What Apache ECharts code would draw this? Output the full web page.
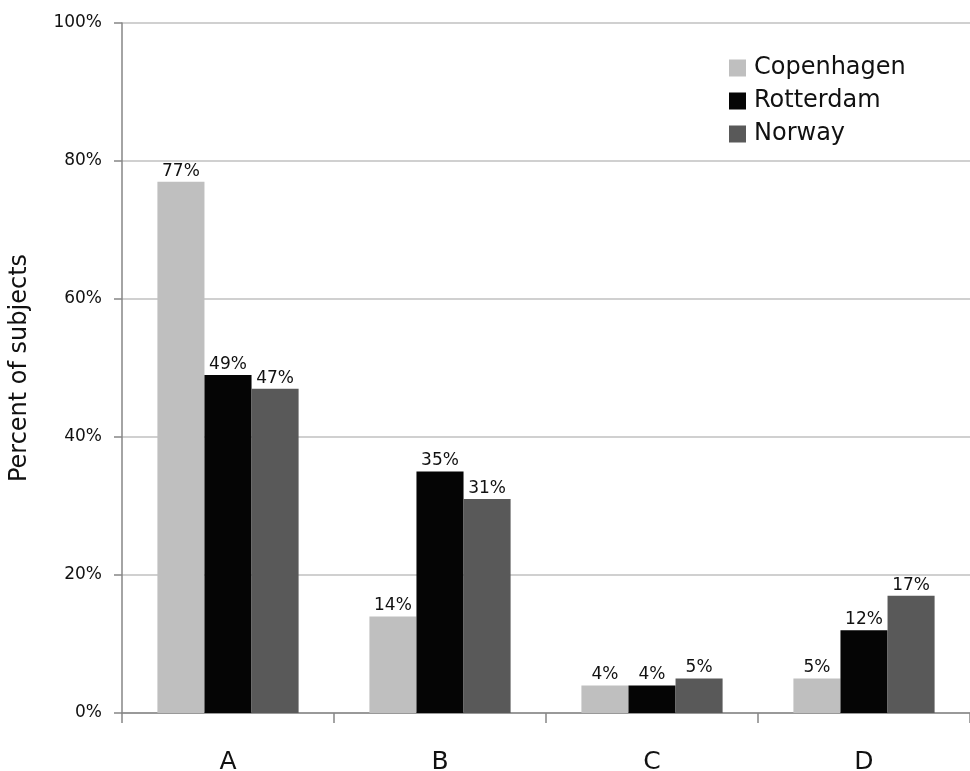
<!DOCTYPE html>
<html>
<head>
<meta charset="utf-8">
<script src="https://cdn.jsdelivr.net/npm/echarts@6/dist/echarts.min.js"></script>
<style>
  html, body { margin: 0; padding: 0; background: #fff; }
  #chart { width: 970px; height: 771px; }
</style>
</head>
<body>
<div id="chart"></div>
<script>
// Share of subjects per category, by cohort (percent)
const categories = ['A', 'B', 'C', 'D'];
const copenhagen = [77, 14, 4, 5];
const rotterdam = [49, 35, 4, 12];
const norway = [47, 31, 5, 17];
const yTicks = [0, 20, 40, 60, 80, 100];

const FONT = '"DejaVu Sans", sans-serif';

function barSeries(name, data, color) {
  return {
    name: name,
    type: 'bar',
    data: data,
    barWidth: '22.2%',
    barGap: '0%',
    itemStyle: { color: color },
    label: {
      show: true,
      position: 'top',
      distance: 2,
      formatter: p => p.value + '%',
      fontFamily: FONT,
      fontSize: 17,
      color: '#111'
    }
  };
}

const chart = echarts.init(document.getElementById('chart'), null, { renderer: 'canvas' });
chart.setOption({
  animation: false,
  backgroundColor: '#fff',
  grid: { left: 122, right: 0, top: 23, bottom: 58, outerBoundsMode: 'none', containLabel: false },
  legend: {
    orient: 'vertical',
    left: 729,
    top: 56,
    padding: 0,
    itemWidth: 17,
    itemHeight: 17,
    itemGap: 9,
    icon: 'rect',
    textStyle: { fontFamily: FONT, fontSize: 24, lineHeight: 24, color: '#111', padding: [0, 0, 0, 3] },
    data: ['Copenhagen', 'Rotterdam', 'Norway']
  },
  xAxis: {
    type: 'category',
    data: categories,
    axisLine: { lineStyle: { color: '#868686', width: 1.5 } },
    axisTick: { show: true, length: 10, alignWithLabel: false, lineStyle: { color: '#868686', width: 1.5 } },
    axisLabel: { fontFamily: FONT, fontSize: 25, color: '#111', margin: 37 }
  },
  yAxis: {
    type: 'value',
    min: 0,
    max: 100,
    interval: 20,
    name: 'Percent of subjects',
    nameLocation: 'middle',
    nameGap: 90,
    nameRotate: 90,
    nameTextStyle: { fontFamily: FONT, fontSize: 24, color: '#111' },
    axisLine: { show: true, lineStyle: { color: '#868686', width: 1.5 } },
    axisTick: { show: true, length: 8, lineStyle: { color: '#868686', width: 1.5 } },
    splitLine: { lineStyle: { color: '#c0c0c0', width: 1.5 } },
    axisLabel: {
      fontFamily: FONT, fontSize: 17, color: '#111', margin: 20,
      formatter: v => (yTicks.indexOf(v) >= 0 ? v + '%' : '')
    }
  },
  series: [
    barSeries('Copenhagen', copenhagen, '#bfbfbf'),
    barSeries('Rotterdam', rotterdam, '#050505'),
    barSeries('Norway', norway, '#595959')
  ]
});
</script>
</body>
</html>
